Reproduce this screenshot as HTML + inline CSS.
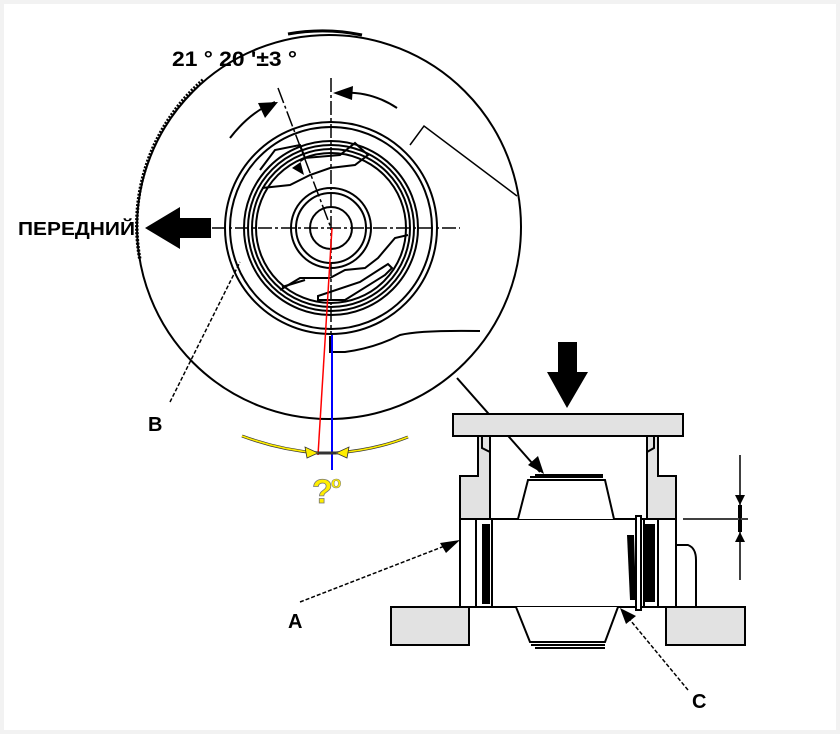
<!DOCTYPE html>
<html><head><meta charset="utf-8"><style>
html,body{margin:0;padding:0;background:#fff}
svg{display:block}
text{font-family:"Liberation Sans",sans-serif;font-weight:bold}
</style></head><body>
<svg width="840" height="734" viewBox="0 0 840 734" xmlns="http://www.w3.org/2000/svg">
<rect x="0" y="0" width="840" height="734" fill="#f2f2f2"/>
<rect x="4" y="4" width="832" height="726" fill="#fff"/>
<g fill="none" stroke="#000" stroke-width="2">
<circle cx="329" cy="227" r="192"/>
<path d="M288 34 A192 192 0 0 1 362 35" stroke-width="3"/>
<path d="M203 80 A192 192 0 0 0 140 260" stroke-width="3.5" stroke-dasharray="2 1.5"/>
<circle cx="331" cy="228" r="106"/>
<circle cx="331" cy="228" r="101"/>
<circle cx="331" cy="228" r="87"/>
<circle cx="331" cy="228" r="83"/>
<circle cx="331" cy="228" r="79"/>
<circle cx="331" cy="228" r="75"/>
<circle cx="331" cy="228" r="40"/>
<circle cx="331" cy="228" r="35"/>
<circle cx="331" cy="228" r="21"/>
<path d="M260 170 L275 150 L300 145 L305 158 L340 155 L355 143 L368 155 L355 165 L330 168 L310 175 L290 185 L262 188"/>
<path d="M280 290 L300 278 L330 278 L345 270 L365 268 L378 258 L395 238 L408 235"/>
<path d="M318 300 L345 300 L385 275 L392 268 L388 264 L360 282 L318 296 Z"/>
<path d="M282 287 L305 280"/>
<path d="M212 228 H460" stroke-dasharray="14 3 3 3" stroke-width="1.5"/>
<path d="M331 78 V335" stroke-dasharray="14 3 3 3" stroke-width="1.5"/>
<path d="M278 88 L331 228" stroke-dasharray="16 3 3 3" stroke-width="1.5"/>
<path d="M230 138 Q250 112 275 102"/>
<path d="M338 93 Q370 90 397 108"/>
<path d="M410 145 L424 126 L517 196" stroke-width="1.5"/>
<path d="M330 336 V352 L345 352 Q375 348 400 335 Q420 330 480 331"/>
<path d="M170 402 L240 262" stroke-dasharray="4 2" stroke-width="1.5"/>
<path d="M457 378 L540 472"/>
<path d="M300 602 L455 542" stroke-dasharray="4 2" stroke-width="1.5"/>
<path d="M688 690 L626 615" stroke-dasharray="4 2" stroke-width="1.5"/>
</g>
<g fill="#000">
<polygon points="278,102 258,103 265,118"/>
<polygon points="333,93 353,86 352,100"/>
<polygon points="292,168 304,175 300,160 308,157"/>
<polygon points="544,474 528,465 538,456"/>
<polygon points="460,540 440,543 446,553"/>
<polygon points="620,608 626,624 636,616"/>
<polygon points="145,228 180,207 180,218 211,218 211,238 180,238 180,249"/>
<polygon points="558,342 577,342 577,372 588,372 567,408 547,372 558,372"/>
</g>
<line x1="332" y1="228" x2="318" y2="455" stroke="#f00" stroke-width="1.5"/>
<line x1="332" y1="335" x2="332" y2="470" stroke="#00f" stroke-width="2"/>
<g fill="none" stroke="#333" stroke-width="3"><path d="M242 436 Q280 450 318 453"/><path d="M336 453 Q375 450 408 437"/><path d="M318 453 H336"/></g>
<g fill="none" stroke="#ffee00" stroke-width="1.6"><path d="M242 436 Q280 450 318 453"/><path d="M336 453 Q375 450 408 437"/></g>
<polygon points="318,453 305,447 307,458" fill="#ffee00" stroke="#333" stroke-width="0.8"/>
<polygon points="336,453 349,447 347,458" fill="#ffee00" stroke="#333" stroke-width="0.8"/>
<text x="312" y="503" font-size="34" fill="#ffee00" stroke="#777" stroke-width="0.8">?</text>
<text x="331" y="488" font-size="17" fill="#ffee00" stroke="#777" stroke-width="0.5">o</text>
<g stroke="#000" stroke-width="2">
<rect x="453" y="414" width="230" height="22" fill="#e2e2e2"/>
<path d="M478 436 V476 H460 V519 H490 V436 Z" fill="#e2e2e2"/>
<path d="M658 436 V476 H676 V519 H647 V436 Z" fill="#e2e2e2"/>
<path d="M482 436 V448 L490 452" fill="none"/>
<path d="M654 436 V448 L647 452" fill="none"/>
<rect x="391" y="607" width="78" height="38" fill="#e2e2e2"/>
<rect x="666" y="607" width="79" height="38" fill="#e2e2e2"/>
<rect x="460" y="519" width="216" height="88" fill="#fff"/>
<path d="M518 519 L528 480 L605 480 L614 519" fill="#fff"/>
<path d="M530 477 H603 M535 475 H603" fill="none"/>
<path d="M516 607 L530 642 L605 642 L618 607" fill="#fff"/>
<path d="M531 645 H605 M535 648 H605" fill="none"/>
<path d="M676 545 H688 Q696 548 696 560 V607" fill="none"/>
<path d="M476 519 V607 M492 519 V607 M644 519 V607 M658 519 V607" fill="none"/>
<rect x="636" y="516" width="5" height="94" fill="#fff"/>
<path d="M683 519 H748 M740 455 V580" fill="none" stroke-width="1.5"/>
</g>
<g fill="#000">
<rect x="482" y="524" width="8" height="80"/>
<rect x="644" y="524" width="11" height="78"/>
<path d="M627 535 L634 535 L636 600 L630 600 Z"/>
<polygon points="735,495 745,495 740,505"/><rect x="738" y="505" width="4" height="13"/>
<polygon points="735,542 745,542 740,532"/><rect x="738" y="520" width="4" height="12"/>
</g>
<text x="172" y="66" font-size="21" textLength="125" lengthAdjust="spacingAndGlyphs">21 ° 20 '±3 °</text>
<text x="18" y="235" font-size="18" textLength="117" lengthAdjust="spacingAndGlyphs">ПЕРЕДНИЙ</text>
<text x="148" y="431" font-size="20">B</text>
<text x="288" y="628" font-size="20">A</text>
<text x="692" y="708" font-size="20">C</text>
</svg>
</body></html>
